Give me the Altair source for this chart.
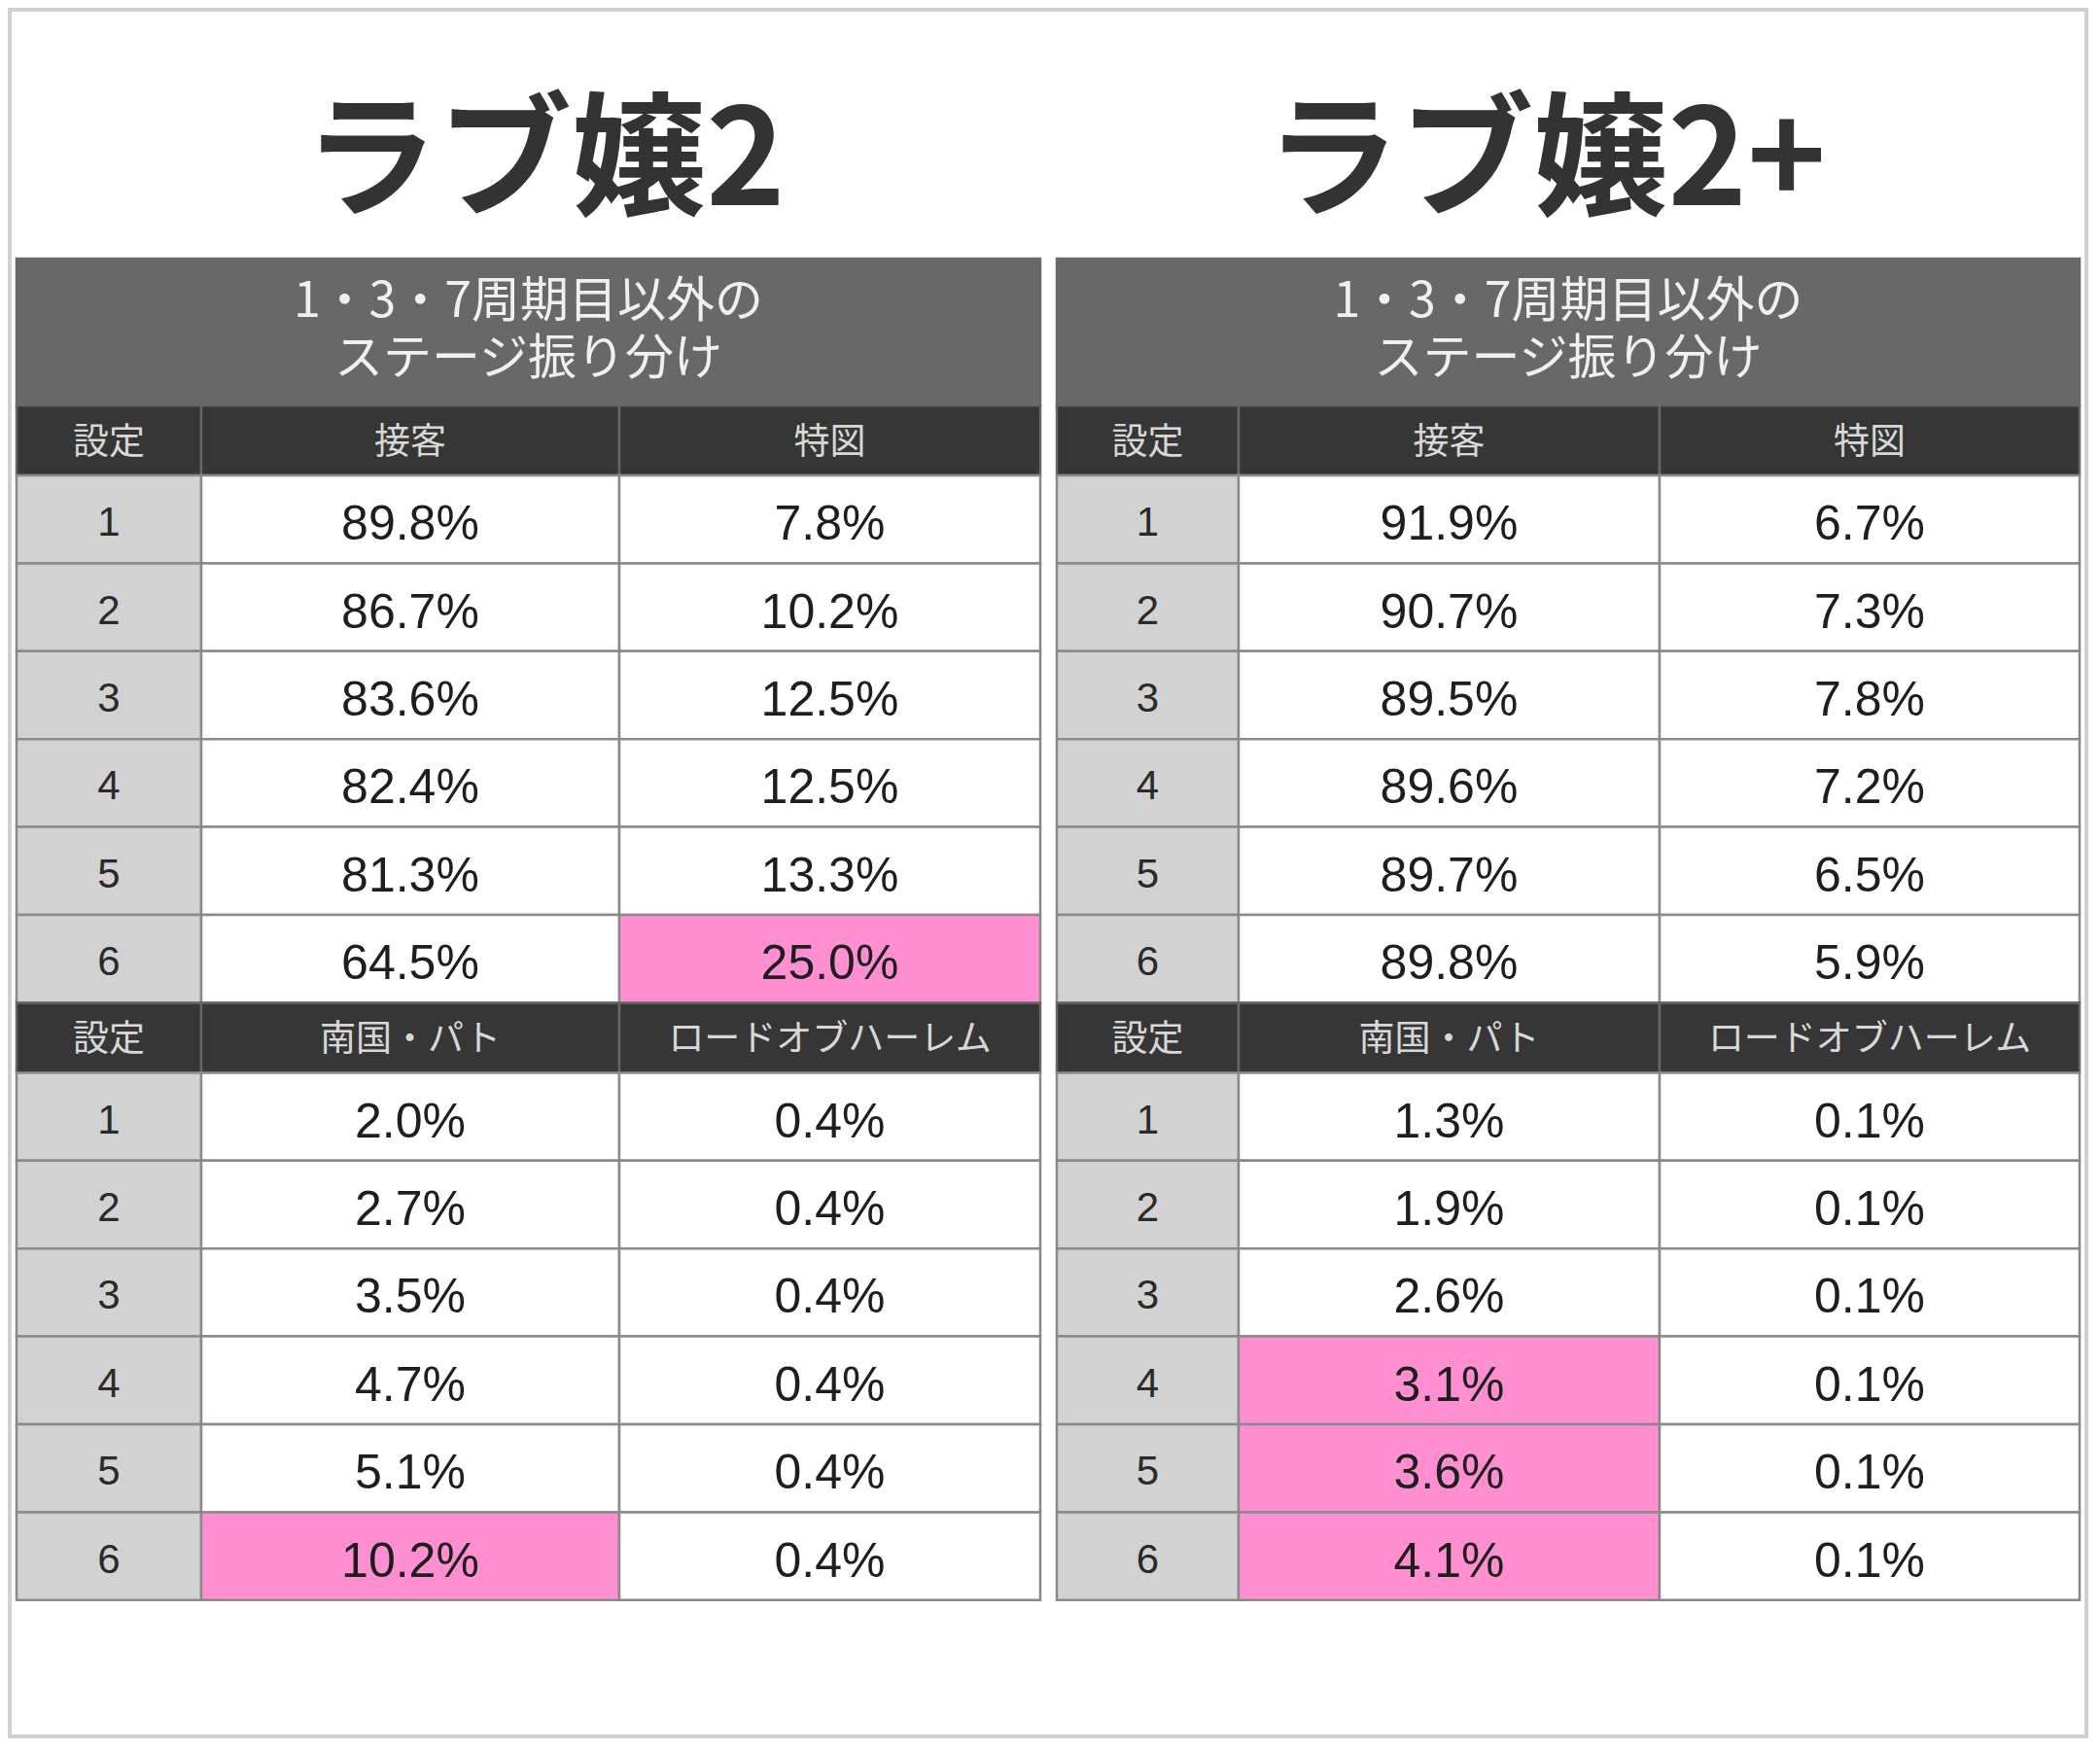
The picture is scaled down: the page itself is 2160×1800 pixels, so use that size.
import altair as alt
import pandas as pd

# ---------------- data ----------------
titles = ["ラブ嬢2", "ラブ嬢2+"]
group_header = ["1・3・7周期目以外の", "ステージ振り分け"]
col_headers_top = ["設定", "接客", "特図"]
col_headers_bottom = ["設定", "南国・パト", "ロードオブハーレム"]
settings = [1, 2, 3, 4, 5, 6]

l_sekkyaku = [89.8, 86.7, 83.6, 82.4, 81.3, 64.5]
l_tokuzu = [7.8, 10.2, 12.5, 12.5, 13.3, 25.0]
l_nangoku = [2.0, 2.7, 3.5, 4.7, 5.1, 10.2]
l_road = [0.4, 0.4, 0.4, 0.4, 0.4, 0.4]

r_sekkyaku = [91.9, 90.7, 89.5, 89.6, 89.7, 89.8]
r_tokuzu = [6.7, 7.3, 7.8, 7.2, 6.5, 5.9]
r_nangoku = [1.3, 1.9, 2.6, 3.1, 3.6, 4.1]
r_road = [0.1, 0.1, 0.1, 0.1, 0.1, 0.1]

# highlighted cells: (table, block, column, setting)
highlights = [(0, 0, 2, 6), (0, 1, 1, 6), (1, 1, 1, 4), (1, 1, 1, 5), (1, 1, 1, 6)]

tables = [
    [[l_sekkyaku, l_tokuzu], [l_nangoku, l_road]],
    [[r_sekkyaku, r_tokuzu], [r_nangoku, r_road]],
]

# ---------------- layout ----------------
W, H = 2140, 1780
X0, Y0 = 8, 8            # page margin: screenshot coordinate of chart origin
TABLE_X = [17, 1087]
COL_W = [[190, 430, 433], [187, 433, 432]]
TITLE_CX = [560, 1590]
TITLE_CY = 170
TOP = 266
GROUP_H = 151
HEAD_H = 72
ROW_H = 90.4

GROUP_BG = "#686868"
HEAD_BG = "#363636"
SET_BG = "#d2d2d2"
CELL_BG = "#ffffff"
PINK = "#ff8fd0"
GRID = "#8a8a8a"
HEAD_DIV = "#666666"

rects, txt_title, txt_group, txt_head, txt_num, txt_set = [], [], [], [], [], []

for t in range(2):
    xs = [TABLE_X[t]]
    for w in COL_W[t]:
        xs.append(xs[-1] + w)
    cx = [(xs[i] + xs[i + 1]) / 2 for i in range(3)]
    txt_title.append(dict(x=TITLE_CX[t], y=TITLE_CY, text=titles[t]))
    # group header
    rects.append(dict(x=xs[0], x2=xs[3], y=TOP, y2=TOP + GROUP_H, fill=GROUP_BG, stroke=GROUP_BG))
    gc = (xs[0] + xs[3]) / 2
    txt_group.append(dict(x=gc, y=TOP + 45, text="\n".join(group_header)))
    y = TOP + GROUP_H
    for b in range(2):
        heads = col_headers_top if b == 0 else col_headers_bottom
        for c in range(3):
            rects.append(dict(x=xs[c], x2=xs[c + 1], y=y, y2=y + HEAD_H, fill=HEAD_BG, stroke=HEAD_DIV))
            txt_head.append(dict(x=cx[c], y=y + HEAD_H / 2, text=heads[c]))
        y += HEAD_H
        for r, s in enumerate(settings):
            rects.append(dict(x=xs[0], x2=xs[1], y=y, y2=y + ROW_H, fill=SET_BG, stroke=GRID))
            txt_set.append(dict(x=cx[0], y=y + ROW_H / 2, text=str(s)))
            for c in range(2):
                hl = (t, b, c + 1, s) in highlights
                rects.append(dict(x=xs[c + 1], x2=xs[c + 2], y=y, y2=y + ROW_H,
                                  fill=PINK if hl else CELL_BG, stroke=GRID))
                v = tables[t][b][c][r]
                txt_num.append(dict(x=cx[c + 1], y=y + ROW_H / 2, text=f"{v:.1f}%"))
            y += ROW_H

# outer light-gray frame of the picture
frame = pd.DataFrame([dict(x=X0 + 2, x2=X0 + W - 2, y=Y0 + 2, y2=Y0 + H - 2)])

xs_scale = alt.Scale(domain=[X0, X0 + W], nice=False, zero=False)
ys_scale = alt.Scale(domain=[Y0, Y0 + H], nice=False, zero=False, reverse=True)


def enc_xy(extra2=False):
    e = dict(x=alt.X("x:Q", scale=xs_scale, axis=None),
             y=alt.Y("y:Q", scale=ys_scale, axis=None))
    if extra2:
        e["x2"] = alt.X2("x2:Q")
        e["y2"] = alt.Y2("y2:Q")
    return e


frame_layer = alt.Chart(frame).mark_rect(fill="white", stroke="#d0d0d0", strokeWidth=4).encode(**enc_xy(True))

cells = alt.Chart(pd.DataFrame(rects)).mark_rect(strokeWidth=2.5).encode(
    **enc_xy(True),
    fill=alt.Fill("fill:N", scale=None),
    stroke=alt.Stroke("stroke:N", scale=None),
)

title_layer = alt.Chart(pd.DataFrame(txt_title)).mark_text(
    font="Noto Sans CJK JP", fontWeight="bold", fontSize=138, color="#333333",
    align="center", baseline="middle"
).encode(**enc_xy(), text="text:N")

group_layer = alt.Chart(pd.DataFrame(txt_group)).mark_text(
    font="Noto Sans CJK JP", fontSize=50, color="#f0f0f0", align="center", baseline="middle",
    lineBreak="\n", lineHeight=59
).encode(**enc_xy(), text="text:N")

head_layer = alt.Chart(pd.DataFrame(txt_head)).mark_text(
    font="Noto Sans CJK JP", fontSize=37, color="#d8d8d8", align="center", baseline="middle", dy=3
).encode(**enc_xy(), text="text:N")

num_layer = alt.Chart(pd.DataFrame(txt_num)).mark_text(
    font="Liberation Sans", fontSize=50, color="#1e1e1e", align="center", baseline="middle", dy=6
).encode(**enc_xy(), text="text:N")

set_layer = alt.Chart(pd.DataFrame(txt_set)).mark_text(
    font="Liberation Sans", fontSize=42, color="#2a2a2a", align="center", baseline="middle", dy=4
).encode(**enc_xy(), text="text:N")

chart = alt.layer(
    frame_layer, cells, title_layer, group_layer, head_layer, num_layer, set_layer
).properties(
    width=W, height=H, padding=0, autosize=alt.AutoSizeParams(type="none"), background="white"
).configure_view(stroke=None)

chart.save("out.html", embed_options={"renderer": "svg", "actions": False})
